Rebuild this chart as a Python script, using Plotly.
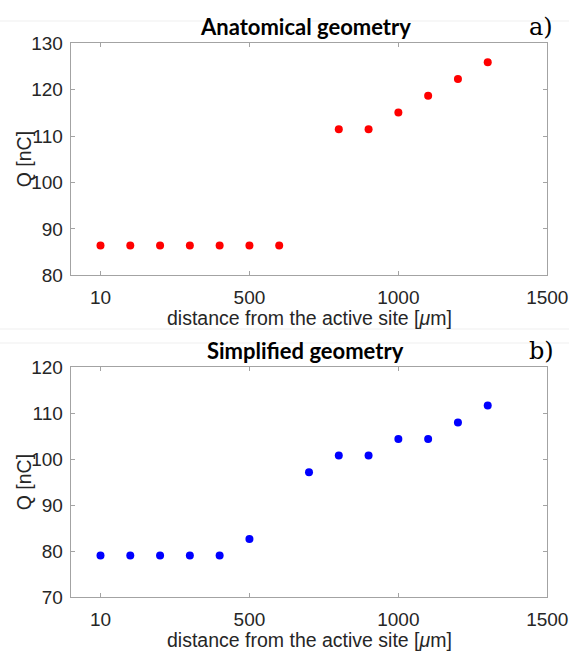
import plotly.graph_objects as go
from plotly.subplots import make_subplots

# distance from the active site (µm) and charge Q (nC)
anat_x = [0, 100, 200, 300, 400, 500, 600, 800, 900, 1000, 1100, 1200, 1300]
anat_q = [86.4, 86.4, 86.4, 86.4, 86.4, 86.4, 86.4, 111.5, 111.5, 115.1, 118.7, 122.3, 125.9]

simp_x = [0, 100, 200, 300, 400, 500, 700, 800, 900, 1000, 1100, 1200, 1300]
simp_q = [79.1, 79.1, 79.1, 79.1, 79.1, 82.7, 97.2, 100.8, 100.8, 104.4, 104.4, 108.0, 111.7]

x_tickvals = [0, 500, 1000, 1500]
x_ticktext = ["10", "500", "1000", "1500"]
anat_yticks = [80, 90, 100, 110, 120, 130]
simp_yticks = [70, 80, 90, 100, 110, 120]

W, H = 569, 651
TXT = "#262626"
AXC = "#a3a3a3"
SANS = "Liberation Sans, Arial, sans-serif"
XLABEL = "distance from the active site [<i>\u03bc</i>m]"

fig = make_subplots(rows=2, cols=1)

fig.add_trace(go.Scatter(x=anat_x, y=anat_q, mode="markers",
                         marker=dict(color="#ff0000", size=8),
                         showlegend=False), row=1, col=1)
fig.add_trace(go.Scatter(x=simp_x, y=simp_q, mode="markers",
                         marker=dict(color="#0000ff", size=8),
                         showlegend=False), row=2, col=1)

# plot-area boxes in pixels: left, right, top, bottom
left, right = 70.7, 547.3
panels = [(43.3, 275.3, anat_yticks), (367.3, 597.3, simp_yticks)]

common_axis = dict(showline=True, linecolor=AXC, linewidth=1, mirror="ticks",
                   ticks="inside", ticklen=4, tickcolor=AXC, showgrid=False,
                   zeroline=False, automargin=False,
                   tickfont=dict(family=SANS, size=19, color=TXT))

for i, (top, bottom, yt) in enumerate(panels, start=1):
    fig.update_xaxes(domain=[left / W, right / W], range=[-100, 1500],
                     tickvals=x_tickvals, ticktext=x_ticktext, ticklabelstandoff=5,
                     row=i, col=1, **common_axis)
    fig.update_yaxes(domain=[1 - bottom / H, 1 - top / H], range=[yt[0], yt[-1]],
                     tickvals=yt, ticklabelstandoff=3,
                     row=i, col=1, **common_axis)
    # axis titles
    fig.add_annotation(x=(left + right) / 2 / W, y=1 - (bottom + 43) / H,
                       xref="paper", yref="paper", xanchor="center", yanchor="middle",
                       text=XLABEL, showarrow=False,
                       font=dict(family=SANS, size=19.5, color=TXT))
    fig.add_annotation(x=24 / W, y=1 - (top + bottom) / 2 / H,
                       xref="paper", yref="paper", xanchor="center", yanchor="middle",
                       text="Q [nC]", textangle=-90, showarrow=False,
                       font=dict(family=SANS, size=19.5, color=TXT))

# panel titles and letters
for yc, title, letter in [(26, "Anatomical geometry", "a)"), (350, "Simplified geometry", "b)")]:
    fig.add_annotation(x=305 / W, y=1 - yc / H, xref="paper", yref="paper",
                       xanchor="center", yanchor="middle",
                       text="<b>" + title + "</b>", showarrow=False,
                       font=dict(family="Lato, sans-serif", size=22, color="#000000"))
    fig.add_annotation(x=541 / W, y=1 - (yc + 1) / H, xref="paper", yref="paper",
                       xanchor="center", yanchor="middle",
                       text=letter, showarrow=False,
                       font=dict(family="DejaVu Serif, serif", size=24, color="#000000"))

# faint separator rules between panels
for yl in [21, 329, 343]:
    fig.add_shape(type="line", xref="paper", yref="paper", x0=0, x1=1,
                  y0=1 - yl / H, y1=1 - yl / H, line=dict(color="#efefef", width=1))

fig.update_layout(template="none", width=W, height=H,
                  margin=dict(l=0, r=0, t=0, b=0, autoexpand=False),
                  paper_bgcolor="white", plot_bgcolor="white")

fig.write_html("out.html")
